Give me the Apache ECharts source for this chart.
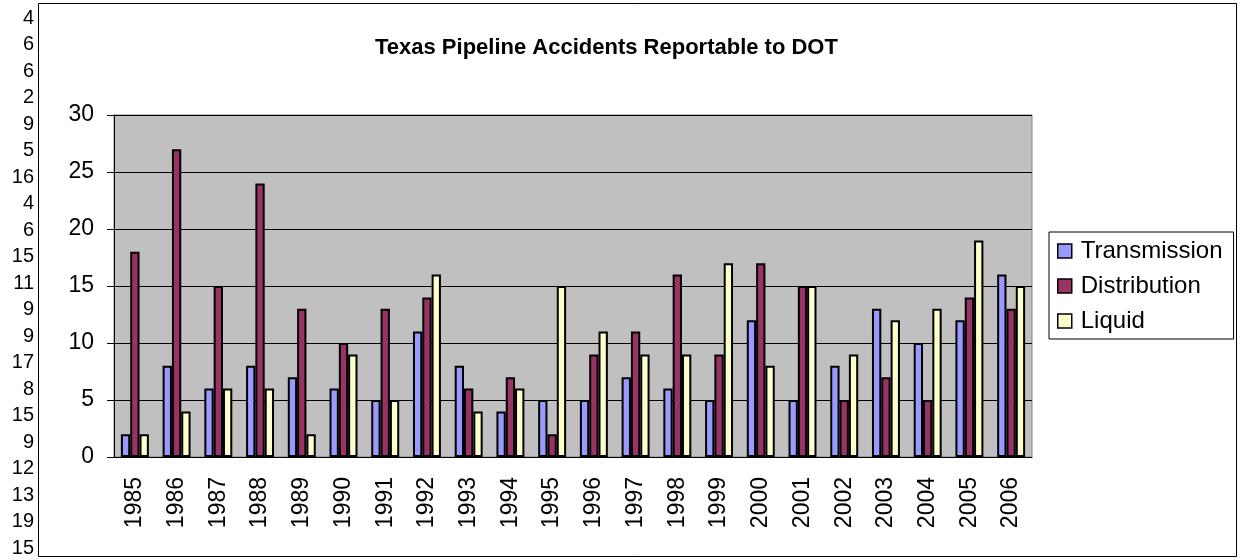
<!DOCTYPE html>
<html>
<head>
<meta charset="utf-8">
<script src="https://cdn.jsdelivr.net/npm/echarts@6/dist/echarts.min.js"></script>
<style>
html,body{margin:0;padding:0;background:#fff;}
#chart{width:1241px;height:560px;}
</style>
</head>
<body>
<div id="chart"></div>
<script>
const years = ['1985','1986','1987','1988','1989','1990','1991','1992','1993','1994','1995','1996','1997','1998','1999','2000','2001','2002','2003','2004','2005','2006'];
const transmission = [2,8,6,8,7,6,5,11,8,4,5,5,7,6,5,12,5,8,13,10,12,16];
const distribution = [18,27,15,24,13,10,13,14,6,7,2,9,11,16,9,17,15,5,7,5,14,13];
const liquid = [2,4,6,6,2,9,5,16,4,6,15,11,9,9,17,8,15,9,12,13,19,15];
const yTicks = [0,5,10,15,20,25,30];
// stray spreadsheet column visible at the left edge (liquid values 1986-2006)
const strayColumn = liquid.slice(1);

const chart = echarts.init(document.getElementById('chart'));
const FONT = 'Liberation Sans, Arial, sans-serif';

const graphics = [{
  type:'rect', shape:{x:38.5,y:3.5,width:1198,height:553},
  style:{fill:'none',stroke:'#000',lineWidth:1}, z:-10
}];
strayColumn.forEach((v,i)=>{
  graphics.push({type:'text', x:34, y:18+i*26.5,
    style:{text:String(v), font:'20px '+FONT, fill:'#000', textAlign:'right', textVerticalAlign:'middle'}});
});

function bar(name, data, color){
  return {name, type:'bar', data, barGap:'0%', barCategoryGap:'33%',
    itemStyle:{color, borderColor:'#000', borderWidth:2}};
}

chart.setOption({
  animation:false,
  title:{text:'Texas Pipeline Accidents Reportable to DOT', left:370, top:32,
    textStyle:{fontFamily:FONT, fontSize:22, fontWeight:'bold', color:'#000'}},
  grid:{left:114, top:115, width:918, height:342, show:true, backgroundColor:'#C0C0C0', borderColor:'#808080', borderWidth:1},
  legend:{orient:'vertical', left:1049, top:232, padding:[7,11,6,8], itemGap:11,
    backgroundColor:'#fff', borderColor:'#000', borderWidth:1, borderRadius:0,
    icon:'rect', itemWidth:14, itemHeight:14, itemStyle:{borderColor:'#000', borderWidth:1.5},
    textStyle:{fontFamily:FONT, fontSize:24, color:'#000', padding:[0,0,0,4]}},
  xAxis:{type:'category', data:years,
    axisLine:{lineStyle:{color:'#000', width:1}},
    axisTick:{length:7, lineStyle:{color:'#000'}},
    axisLabel:{rotate:90, margin:20, fontFamily:FONT, fontSize:23, color:'#000'}},
  yAxis:{type:'value', min:0, max:30, interval:5,
    axisLine:{show:true, lineStyle:{color:'#000', width:1}},
    axisTick:{show:true, length:7, lineStyle:{color:'#000'}},
    splitLine:{lineStyle:{color:'#000', width:1}},
    axisLabel:{margin:20, fontFamily:FONT, fontSize:23, color:'#000',
      formatter:v=>yTicks.includes(v)?String(v):''}},
  graphic:graphics,
  series:[bar('Transmission',transmission,'#9999FF'), bar('Distribution',distribution,'#993366'), bar('Liquid',liquid,'#FFFFCC')]
});
</script>
</body>
</html>
